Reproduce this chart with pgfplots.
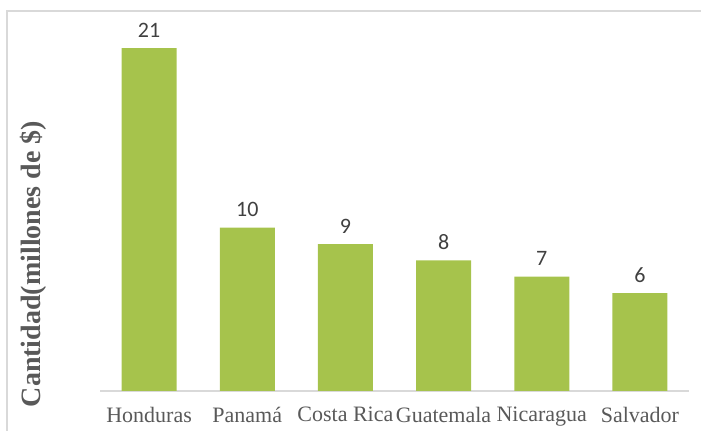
\documentclass[border=0pt]{standalone}
\usepackage{pgfplots}
\pgfplotsset{compat=1.18}
\usepackage{fontspec}
\setmainfont{Liberation Serif}
\newfontfamily\carlito{Carlito}
\definecolor{barc}{HTML}{A6C34C}
\definecolor{axisgray}{HTML}{D9D9D9}
\definecolor{txt}{HTML}{595959}
\definecolor{lbl}{HTML}{404040}
\begin{document}
\begin{tikzpicture}[x=0.75pt,y=0.75pt]
\useasboundingbox (0,0) rectangle (701,431);
\draw[axisgray, line width=1.2pt] (7,0) -- (7,420) -- (701,420);
\begin{axis}[
  at={(111.825pt,30pt)}, anchor=origin,
  scale only axis, width=441.75pt, height=275.6pt,
  xmin=-0.5, xmax=5.5, ymin=0, ymax=22.5,
  ybar, bar width=41.25pt,
  axis x line*=bottom, axis y line=none,
  xtick=data,
  xticklabels={Honduras,Panamá,Costa Rica,Guatemala,Nicaragua,Salvador},
  major tick length=0pt,
  x axis line style={axisgray, line width=1.1pt, -},
  xticklabel style={font=\fontsize{16.5}{19}\selectfont, text=txt, yshift=-8.5pt},
  /pgf/number format/assume math mode=true,
  nodes near coords,
  nodes near coords style={font=\carlito\fontsize{16.5}{19}\selectfont, text=lbl, yshift=4.5pt},
  clip=false,
]
\addplot[fill=barc, draw=none] coordinates {(0,21) (1,10) (2,9) (3,8) (4,7) (5,6)};
\end{axis}
\node[rotate=90, font=\bfseries\fontsize{21}{25}\selectfont, text=txt] at (33,167) {Cantidad(millones de \$)};
\end{tikzpicture}
\end{document}
